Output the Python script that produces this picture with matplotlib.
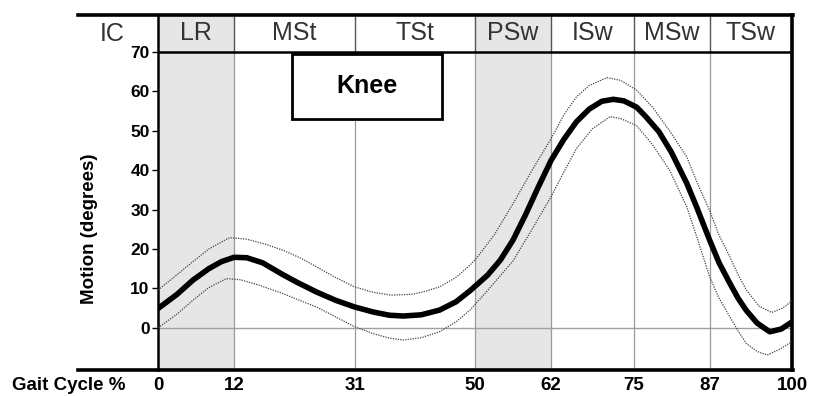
import matplotlib.pyplot as plt
from matplotlib.patches import Rectangle

plt.rcParams['font.family'] = ['Liberation Sans', 'DejaVu Sans']

# gait phases and their boundaries (% of gait cycle)
phases = ['LR', 'MSt', 'TSt', 'PSw', 'ISw', 'MSw', 'TSw']
bounds = [0, 12, 31, 50, 62, 75, 87, 100]
shaded = [(0, 12), (50, 62)]
yticks = [0, 10, 20, 30, 40, 50, 60, 70]

# mean knee flexion curve
mean_x = [0, 3, 5.5, 8, 10, 12, 14, 16.5, 19.7, 22, 25, 28, 31, 34, 36.5, 38.7,
          41.5, 44.4, 47, 49.2, 52, 54, 56, 58, 60, 62, 64, 66, 68, 70, 71.8,
          73.5, 75.5, 77, 79, 81, 83.4, 85, 87, 88.5, 90.2, 91.5, 92.8, 94.5,
          96.5, 98.3, 100]
mean_y = [4.9, 8.5, 12.1, 15, 16.8, 17.9, 17.8, 16.5, 13.5, 11.5, 9.1, 7, 5.3, 4,
          3.2, 3, 3.3, 4.5, 6.6, 9.4, 13.4, 17.2, 22.3, 28.8, 35.8, 42.5, 47.8,
          52.3, 55.5, 57.5, 58, 57.6, 56, 53.5, 49.8, 44.5, 36.7, 30.5, 22.3,
          16.5, 11.3, 7.5, 4.4, 1.2, -1, -0.3, 1.5]

# upper standard deviation band
upper_x = [0, 3, 5.5, 8, 11.3, 14, 17, 19.7, 22.5, 25, 28, 31, 34, 36.8, 40, 42,
           44.4, 47, 49.2, 50.3, 53, 56, 59, 62, 64, 66, 68, 70.8, 73, 75.5, 78,
           80.7, 83.4, 85, 87, 88.5, 90.2, 91.5, 92.8, 94.8, 96.8, 98.5, 100]
upper_y = [9.6, 13.5, 16.8, 20, 22.9, 22.5, 21.2, 19.7, 17.7, 15.5, 12.8, 10.4, 9,
           8.3, 8.5, 9.2, 10.4, 12.8, 15.9, 17.8, 23.5, 31.5, 40, 48, 54, 58.6,
           61.5, 63.5, 62.8, 60.3, 56, 50, 43.4, 37, 29.8, 23.5, 18, 13.5, 9.6,
           5.5, 3.9, 5, 6.8]

# lower standard deviation band
lower_x = [0, 3, 5.5, 8, 10.8, 13, 16, 19.7, 22, 25, 28, 31, 34, 36.5, 38.7, 41.5,
           44.4, 47, 49.2, 52, 56, 59, 62, 64, 66, 68.5, 71.3, 73, 75.5, 78, 80.7,
           83.4, 85, 87, 88.5, 90.2, 91.5, 92.8, 94.5, 96.1, 98, 100]
lower_y = [0, 3.5, 7, 10.2, 12.5, 12.2, 10.8, 8.7, 7.2, 5.3, 2.8, 0.3, -1.5, -2.6,
           -3.1, -2.5, -1, 1.5, 4.5, 9.5, 17, 25, 33.3, 39.5, 45.5, 50.5, 53.6,
           53.1, 51.3, 46.5, 40, 30.7, 23, 13, 7.5, 2.8, -0.8, -4, -6, -6.9, -5.5,
           -3.5]

ymin, ymax, yhead = -10.7, 79.4, 70

fig = plt.figure(figsize=(8.18, 3.96), dpi=100)
ax = fig.add_axes([158 / 818, 1 - 370 / 396, (792 - 158) / 818, (370 - 15) / 396])
ax.set_xlim(0, 100)
ax.set_ylim(ymin, ymax)

for a, b in shaded:
    ax.axvspan(a, b, color='#e6e6e6', zorder=0, lw=0)

for b in bounds[1:-1]:
    ax.plot([b, b], [ymin, yhead], color='#9a9a9a', lw=0.9, zorder=1)
    ax.plot([b, b], [yhead, ymax], color='#555555', lw=1.0, zorder=1)

ax.axhline(0, color='#a0a0a0', lw=1, zorder=1)
ax.axhline(yhead, color='black', lw=1.8, zorder=3)

# phase names in the header row
for i, name in enumerate(phases):
    xc = (bounds[i] + bounds[i + 1]) / 2
    ax.text(xc, 74.8, name, ha='center', va='center', fontsize=18,
            color='#333333')
ax.text(-7.3, 74.6, 'IC', ha='center', va='center', fontsize=18,
        color='#333333', clip_on=False)

# curves
ax.plot(upper_x, upper_y, ls=(0, (1, 1)), color='#444444', lw=0.9, zorder=4)
ax.plot(lower_x, lower_y, ls=(0, (1, 1)), color='#444444', lw=0.9, zorder=4)
ax.plot(mean_x, mean_y, color='black', lw=4, solid_joinstyle='round', zorder=5)

# title box
ax.add_patch(Rectangle((21.2, 53), 23.6, 16.6, facecolor='white',
                       edgecolor='black', lw=2, zorder=6))
ax.text(33, 61.3, 'Knee', ha='center', va='center', fontsize=18,
        fontweight='bold', zorder=7)

# frame
for s in ['top', 'bottom']:
    ax.spines[s].set_visible(False)
ax.spines['left'].set_linewidth(1.8)
ax.spines['right'].set_linewidth(2.6)
ax.plot([-0.126, 1.002], [1, 1], transform=ax.transAxes, color='black',
        lw=2.6, clip_on=False, zorder=8)
ax.plot([-0.126, 1.002], [0, 0], transform=ax.transAxes, color='black',
        lw=2.6, clip_on=False, zorder=8)

ax.set_yticks(yticks)
ax.set_yticklabels([str(v) for v in yticks], fontweight='bold')
ax.tick_params(axis='y', length=4, width=1, pad=2, labelsize=12.5)
ax.set_xticks(bounds)
ax.set_xticklabels([str(v) for v in bounds], fontweight='bold')
ax.tick_params(axis='x', length=0, pad=5, labelsize=13.5)

fig.text(12 / 818, 1 - 385 / 396, 'Gait Cycle %', ha='left', va='center',
         fontsize=13.5, fontweight='bold')
fig.text(90 / 818, 1 - 229 / 396, 'Motion (degrees)', rotation=90,
         ha='center', va='center', fontsize=13.5, fontweight='bold')

fig.savefig('out.png', dpi=100)
